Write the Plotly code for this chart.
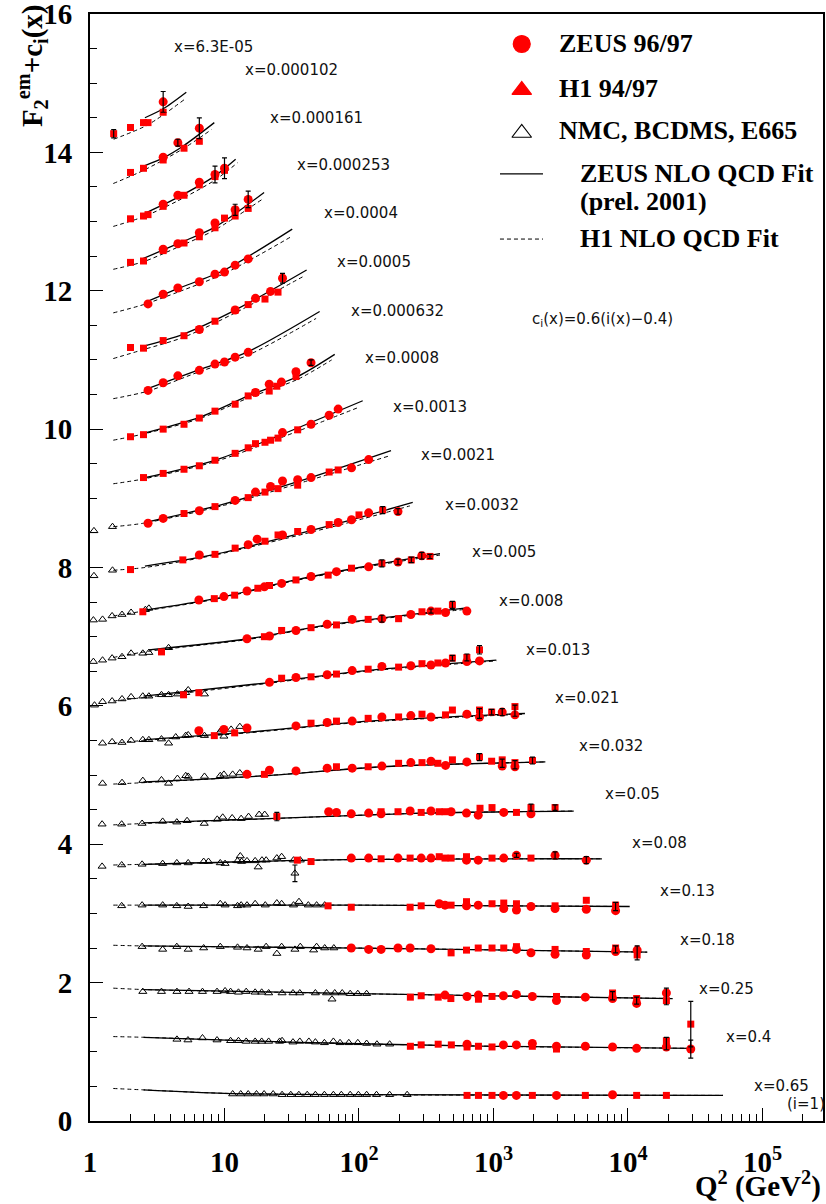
import numpy as np
import plotly.graph_objects as go

# ---------------- data ----------------
x_bins = ["6.3E-05", "0.000102", "0.000161", "0.000253", "0.0004", "0.0005",
          "0.000632", "0.0008", "0.0013", "0.0021", "0.0032", "0.005", "0.008",
          "0.013", "0.021", "0.032", "0.05", "0.08", "0.13", "0.18", "0.25",
          "0.4", "0.65"]

zeus_q2 = [
    [3.5],
    [3.5, 4.5, 6.5],
    [3.5, 4.5, 6.5, 8.5, 10],
    [3.5, 4.5, 6.5, 8.5, 12, 15],
    [2.7, 3.5, 4.5, 6.5, 8.5, 10, 12, 15],
    [6.5, 12, 17, 22, 27],
    [2.7, 3.5, 4.5, 6.5, 8.5, 10, 12, 15],
    [17, 21.5, 26.5, 34, 44],
    [27, 44, 60, 70],
    [2.7, 3.5, 6.5, 12, 17, 22, 27, 35, 44, 88, 118],
    [6.5, 15, 17.5, 27, 44, 70, 88, 118, 195],
    [6.45, 9.9, 14.7, 19.8, 26.6, 44, 68, 118, 195, 293],
    [14.7, 21.6, 34, 58, 89, 148, 243, 343, 440, 634],
    [21.6, 34, 58, 89, 148, 243, 343, 440, 634, 787],
    [6.45, 9.9, 14.7, 34, 58, 89, 148, 243, 343, 634, 787, 1161, 1444],
    [14.7, 21.6, 34, 58, 89, 148, 243, 343, 440, 634, 1161, 1444],
    [59.5, 68, 87.6, 118, 146, 240, 343, 484, 630, 770, 1192, 1900],
    [87.6, 118, 195, 290, 343, 630, 770, 1192, 1482, 2870, 4900],
    [395, 436, 630, 770, 1192, 1482, 1900, 2870, 4900, 8090],
    [87.6, 118, 146, 195, 240, 343, 1482, 1900, 2870, 4900, 8090, 11700],
    [436, 636, 773, 1185, 1480, 1945, 2940, 4820, 7680, 11600, 19300],
    [636, 1185, 1480, 1945, 2940, 4820, 7680, 11600, 19300, 29300],
    [1185, 1480, 2940, 7680],
]
zeus_f2 = [
    [14.73],
    [13.93, 14.14, 14.35],
    [13.25, 13.38, 13.57, 13.68, 13.77],
    [12.60, 12.68, 12.84, 12.98, 13.17, 13.32],
    [11.81, 11.95, 12.04, 12.13, 12.24, 12.27, 12.37, 12.46],
    [11.44, 11.72, 11.89, 11.99, 12.18],
    [10.56, 10.67, 10.77, 10.85, 10.94, 10.97, 11.04, 11.11],
    [10.53, 10.65, 10.68, 10.83, 10.96],
    [9.95, 10.07, 10.20, 10.29],
    [8.64, 8.71, 8.82, 8.97, 9.09, 9.17, 9.25, 9.27, 9.30, 9.44, 9.56],
    [8.18, 8.33, 8.41, 8.47, 8.55, 8.65, 8.69, 8.79, 8.81],
    [7.53, 7.58, 7.66, 7.72, 7.77, 7.87, 7.94, 8.01, 8.08, 8.17],
    [6.97, 7.01, 7.09, 7.18, 7.25, 7.26, 7.32, 7.37, 7.35, 7.37],
    [6.34, 6.41, 6.45, 6.51, 6.57, 6.58, 6.59, 6.62, 6.64, 6.65],
    [5.64, 5.66, 5.68, 5.71, 5.76, 5.78, 5.84, 5.86, 5.84, 5.88, 5.84, 5.91, 5.87],
    [5.01, 5.07, 5.06, 5.10, 5.10, 5.13, 5.18, 5.20, 5.14, 5.19, 5.13, 5.12],
    [4.47, 4.46, 4.44, 4.45, 4.44, 4.48, 4.48, 4.47, 4.45, 4.42, 4.46, 4.44],
    [3.80, 3.80, 3.80, 3.80, 3.80, 3.77, 3.77, 3.80, 3.84, 3.84, 3.77],
    [3.14, 3.12, 3.11, 3.12, 3.07, 3.05, 3.10, 3.07, 3.06, 3.04],
    [2.50, 2.48, 2.48, 2.50, 2.50, 2.49, 2.48, 2.43, 2.41, 2.40, 2.45, 2.47],
    [1.82, 1.80, 1.82, 1.81, 1.83, 1.80, 1.74, 1.79, 1.77, 1.70, 1.85],
    [1.11, 1.10, 1.10, 1.12, 1.08, 1.08, 1.07, 1.05, 1.07, 1.04],
    [0.37, 0.37, 0.37, 0.38],
]

h1_q2 = [
    [1.5, 2.0, 2.5, 2.7, 3.5],
    [2.0, 2.5, 3.5, 5.0, 6.5],
    [2.0, 2.5, 2.7, 3.5, 5.0, 6.5, 8.5, 10],
    [2.0, 2.5, 3.5, 5.0, 6.5, 8.5, 10, 12, 15],
    [],
    [2.0, 2.5, 3.5, 5.0, 6.5, 8.5, 12, 15, 20, 25],
    [],
    [2.0, 2.5, 3.5, 5.0, 6.5, 8.5, 12, 15, 17, 21.5, 24.5, 34],
    [2.5, 3.5, 5.0, 6.5, 8.5, 12, 15, 17, 20, 22, 25, 35],
    [5.0, 8.5, 15, 20, 25, 35, 60, 70],
    [2.0, 4.9, 8.5, 12, 20, 25, 35, 60, 100, 150],
    [2.47, 8.4, 11.9, 17.7, 21.6, 34, 59, 88, 148, 245, 337],
    [3.4, 19.8, 26.6, 44, 68, 117, 197, 294, 386, 495],
    [4.96, 6.45, 26.6, 44, 68, 117, 197, 294, 386, 495, 634, 787],
    [8.4, 11.9, 44, 68, 117, 197, 294, 440, 495, 787, 969, 1444],
    [19.8, 68, 117, 197, 294, 386, 495, 787, 969, 1161, 1444, 1950],
    [24.5, 146, 195, 290, 395, 436, 794, 975, 1482, 1900, 2870],
    [34.8, 44, 146, 240, 395, 436, 484, 630, 975, 1900],
    [58.9, 87.6, 240, 290, 484, 630, 975, 1192, 1482, 2870, 4900, 8090],
    [484, 630, 770, 975, 1192, 1482, 2870, 4900, 8090, 11700],
    [241, 290, 388, 482, 773, 975, 2940, 7680, 11600, 19300],
    [241, 290, 388, 486, 636, 773, 975, 1945, 2940, 19300, 29300],
    [636, 773, 975, 1945, 4820, 11600, 19300],
]
h1_f2 = [
    [14.27, 14.36, 14.43, 14.43, 14.58],
    [13.71, 13.77, 13.89, 14.06, 14.16],
    [13.04, 13.08, 13.10, 13.22, 13.38, 13.53, 13.65, 13.74],
    [12.41, 12.43, 12.58, 12.69, 12.78, 12.91, 13.05, 13.08, 13.19],
    [],
    [11.18, 11.17, 11.28, 11.35, 11.44, 11.56, 11.72, 11.80, 11.88, 11.98],
    [],
    [9.89, 9.92, 10.00, 10.07, 10.16, 10.26, 10.36, 10.48, 10.53, 10.55, 10.62, 10.76],
    [9.30, 9.36, 9.42, 9.47, 9.55, 9.65, 9.73, 9.79, 9.81, 9.84, 9.87, 9.99],
    [8.78, 8.88, 9.01, 9.09, 9.14, 9.19, 9.38, 9.41],
    [7.97, 8.11, 8.19, 8.28, 8.38, 8.47, 8.52, 8.62, 8.76, 8.83],
    [7.36, 7.55, 7.60, 7.70, 7.74, 7.82, 7.89, 7.99, 8.06, 8.11, 8.16],
    [6.78, 7.00, 7.09, 7.13, 7.17, 7.25, 7.26, 7.36, 7.37, 7.46],
    [6.16, 6.19, 6.40, 6.42, 6.46, 6.53, 6.56, 6.61, 6.62, 6.69, 6.70, 6.81],
    [5.57, 5.61, 5.75, 5.78, 5.82, 5.84, 5.88, 5.87, 5.94, 5.94, 5.91, 5.99],
    [5.01, 5.12, 5.12, 5.17, 5.18, 5.17, 5.22, 5.26, 5.20, 5.22, 5.18, 5.21],
    [4.40, 4.47, 4.47, 4.46, 4.47, 4.47, 4.52, 4.53, 4.46, 4.53, 4.53],
    [3.77, 3.75, 3.79, 3.80, 3.82, 3.80, 3.80, 3.82, 3.80, 3.80],
    [3.11, 3.09, 3.09, 3.11, 3.12, 3.17, 3.14, 3.15, 3.14, 3.11, 3.19, 3.12],
    [2.43, 2.47, 2.50, 2.50, 2.50, 2.52, 2.48, 2.45, 2.50, 2.40],
    [1.79, 1.81, 1.79, 1.77, 1.76, 1.80, 1.80, 1.85, 1.77, 1.74],
    [1.08, 1.10, 1.11, 1.10, 1.07, 1.08, 1.07, 1.08, 1.04, 1.16, 1.40],
    [0.37, 0.37, 0.37, 0.37, 0.37, 0.37, 0.37],
]

fixed_q2 = [
    [], [], [], [], [], [], [], [], [],
    [1.07, 1.47],
    [1.07, 1.47],
    [1.06, 1.24, 1.46, 1.73, 2.02, 2.58, 2.74],
    [1.06, 1.24, 1.46, 1.73, 2.02, 2.47, 2.74, 3.84],
    [1.08, 1.24, 1.46, 1.73, 2.02, 2.47, 2.74, 3.4, 3.84, 4.47, 5.15, 5.37, 7.1],
    [1.24, 1.46, 1.73, 2.02, 2.47, 2.74, 3.4, 3.84, 4.34, 5.15, 5.37, 7.1, 9.3, 9.6, 9.9, 11.2, 13.0],
    [1.24, 1.73, 2.47, 3.4, 3.84, 4.47, 5.15, 5.37, 7.1, 9.3, 9.9, 11.5, 13.0],
    [1.23, 1.72, 2.44, 3.47, 4.42, 5.27, 7.07, 8.83, 9.7, 11.4, 13.3, 15.1, 18.1, 19.9],
    [1.23, 1.72, 2.44, 3.47, 4.42, 5.37, 7.0, 7.6, 9.3, 10.1, 12.5, 13.1, 13.4, 14.7, 16.9,
     17.8, 19.0, 20.4, 24.5, 26.6, 32.6, 33.4, 36.6],
    [1.72, 2.44, 3.47, 4.42, 5.37, 7.0, 9.3, 10.1, 12.5, 13.3, 14.7, 16.9, 20.1, 24.5, 26.6,
     32.6, 35.8, 42, 48.4, 55.6],
    [2.44, 3.47, 4.42, 5.37, 7.0, 9.3, 12.5, 14.7, 17.8, 20.4, 24.5, 26.6, 33.4, 36.6, 46,
     48.4, 55.6, 65],
    [2.47, 3.4, 4.43, 5.45, 6.86, 8.8, 10.1, 11.1, 12.7, 14.5, 16.9, 18.9, 21.3, 26.8, 32.3,
     36.3, 47.4, 57.4, 63, 66, 75, 86, 98, 114],
    [4.43, 5.35, 6.86, 8.8, 11.1, 12.7, 14.5, 16.9, 18.9, 21.3, 25.7, 26.8, 32.3, 36.3, 42.4,
     47.4, 55.3, 64.5, 72.3, 84, 98, 114, 136, 169],
    [11.5, 13.2, 15.0, 17.3, 19.7, 23.0, 26.8, 31.1, 35.7, 41.2, 47.4, 55.3, 64.5, 73.9, 86.0,
     99, 114, 135, 169, 228],
]
fixed_f2 = [
    [], [], [], [], [], [], [], [], [],
    [8.53, 8.59],
    [7.88, 7.96],
    [7.24, 7.25, 7.30, 7.32, 7.35, 7.39, 7.41],
    [6.64, 6.66, 6.69, 6.71, 6.76, 6.76, 6.77, 6.84],
    [6.01, 6.06, 6.07, 6.10, 6.13, 6.14, 6.14, 6.16, 6.16, 6.17, 6.19, 6.23, 6.17],
    [5.46, 5.48, 5.47, 5.50, 5.51, 5.51, 5.52, 5.46, 5.55, 5.57, 5.58, 5.57, 5.63, 5.66, 5.56, 5.66, 5.70],
    [4.88, 4.89, 4.92, 4.93, 4.88, 4.95, 4.99, 4.98, 4.98, 4.99, 5.01, 5.01, 5.03],
    [4.29, 4.29, 4.30, 4.33, 4.32, 4.34, 4.30, 4.36, 4.39, 4.38, 4.37, 4.40, 4.43, 4.43],
    [3.68, 3.70, 3.71, 3.72, 3.73, 3.73, 3.75, 3.75, 3.73, 3.72, 3.76, 3.83, 3.75, 3.76, 3.76,
     3.67, 3.77, 3.77, 3.80, 3.82, 3.77, 3.58, 3.77],
    [3.11, 3.12, 3.12, 3.11, 3.10, 3.11, 3.14, 3.12, 3.11, 3.12, 3.12, 3.14, 3.12, 3.15, 3.14,
     3.12, 3.17, 3.12, 3.12, 3.12],
    [2.52, 2.48, 2.52, 2.48, 2.50, 2.52, 2.51, 2.50, 2.48, 2.52, 2.42, 2.52, 2.48, 2.52, 2.47,
     2.52, 2.50, 2.50],
    [1.87, 1.87, 1.87, 1.87, 1.87, 1.87, 1.88, 1.87, 1.86, 1.87, 1.86, 1.86, 1.85, 1.85, 1.85,
     1.85, 1.85, 1.85, 1.76, 1.85, 1.85, 1.84, 1.84, 1.84],
    [1.18, 1.17, 1.20, 1.17, 1.16, 1.16, 1.15, 1.15, 1.15, 1.15, 1.15, 1.16, 1.14, 1.15, 1.15,
     1.14, 1.13, 1.15, 1.13, 1.13, 1.13, 1.12, 1.11, 1.11],
    [0.39, 0.39, 0.39, 0.39, 0.39, 0.39, 0.38, 0.38, 0.38, 0.38, 0.38, 0.38, 0.38, 0.38, 0.38,
     0.38, 0.38, 0.38, 0.38, 0.38],
]

zeus_fit_q2 = [
    [2.56, 3.5, 5.2],
    [2.56, 3.5, 5.0, 8.4],
    [2.56, 4.5, 8.5, 12.1],
    [2.45, 4.5, 8.5, 19.7],
    [2.56, 4.5, 10, 31.9],
    [2.4, 4.9, 12, 40.8],
    [2.56, 6.5, 15, 51],
    [2.4, 6.5, 15, 35, 66],
    [2.45, 8.5, 25, 106.6],
    [2.56, 10, 35, 173],
    [2.56, 8.5, 30, 88, 251],
    [2.5, 8.5, 30, 100, 400],
    [2.74, 15, 50, 200, 653],
    [2.5, 20, 100, 1050],
    [2.5, 15, 100, 1714],
    [2.5, 20, 150, 2430],
    [2.5, 30, 300, 3950],
    [2.5, 100, 6400],
    [2.5, 100, 10300],
    [2.5, 100, 13900],
    [2.5, 100, 21500],
    [2.5, 30, 1000, 30200],
    [2.5, 10, 100, 50900],
]
zeus_fit_f2 = [
    [14.50, 14.63, 14.87],
    [13.81, 13.92, 14.10, 14.43],
    [13.12, 13.35, 13.66, 13.90],
    [12.46, 12.68, 12.92, 13.42],
    [11.83, 12.03, 12.30, 12.89],
    [11.19, 11.37, 11.72, 12.30],
    [10.57, 10.86, 11.12, 11.70],
    [9.93, 10.17, 10.48, 10.76, 11.08],
    [9.29, 9.55, 9.90, 10.41],
    [8.65, 8.92, 9.24, 9.69],
    [8.02, 8.19, 8.45, 8.69, 8.94],
    [7.38, 7.55, 7.80, 8.00, 8.20],
    [6.81, 6.97, 7.15, 7.30, 7.42],
    [6.14, 6.33, 6.50, 6.66],
    [5.51, 5.62, 5.77, 5.89],
    [4.90, 4.99, 5.12, 5.19],
    [4.31, 4.38, 4.45, 4.48],
    [3.71, 3.78, 3.79],
    [3.12, 3.12, 3.10],
    [2.53, 2.50, 2.44],
    [1.90, 1.84, 1.77],
    [1.21, 1.14, 1.08, 1.05],
    [0.45, 0.40, 0.38, 0.37],
]

h1_fit_q2 = [
    [1.5, 2.7, 5.0],
    [1.49, 2.5, 4.9, 8.0],
    [1.49, 2.5, 4.5, 8.5, 12.5],
    [1.49, 2.5, 4.5, 8.5, 19.7],
    [1.49, 2.5, 4.5, 10, 31.9],
    [1.49, 2.5, 5, 12, 38],
    [1.49, 2.7, 6.5, 15, 48],
    [1.49, 2.5, 6.5, 15, 35, 62.6],
    [1.49, 2.5, 8.5, 25, 101],
    [1.49, 2.5, 10, 35, 166],
    [1.49, 2.56, 8.5, 30, 88, 239],
    [1.49, 2.5, 8.5, 30, 100, 400],
    [1.49, 2.74, 15, 50, 200, 653],
    [1.49, 2.5, 20, 100, 1050],
    [1.49, 2.5, 15, 100, 1714],
    [1.49, 2.5, 20, 150, 2430],
    [1.49, 2.5, 30, 300, 3950],
    [1.49, 2.5, 100, 6400],
    [1.49, 2.5, 100, 10300],
    [1.49, 2.5, 100, 13900],
    [1.49, 2.5, 100, 21500],
    [1.49, 2.5, 30, 1000, 30200],
    [1.49, 2.5, 10, 100, 50900],
]
h1_fit_f2 = [
    [14.19, 14.40, 14.76],
    [13.55, 13.74, 14.05, 14.33],
    [12.93, 13.07, 13.30, 13.60, 13.85],
    [12.31, 12.42, 12.63, 12.88, 13.34],
    [11.68, 11.80, 11.98, 12.25, 12.79],
    [11.02, 11.15, 11.33, 11.68, 12.20],
    [10.44, 10.55, 10.83, 11.07, 11.60],
    [9.84, 9.93, 10.15, 10.45, 10.72, 11.00],
    [9.21, 9.28, 9.53, 9.86, 10.32],
    [8.59, 8.64, 8.90, 9.21, 9.61],
    [7.96, 8.00, 8.18, 8.43, 8.66, 8.89],
    [7.30, 7.37, 7.54, 7.79, 7.99, 8.18],
    [6.70, 6.79, 6.96, 7.14, 7.29, 7.40],
    [6.07, 6.12, 6.32, 6.49, 6.65],
    [5.46, 5.50, 5.61, 5.76, 5.88],
    [4.87, 4.89, 4.99, 5.12, 5.19],
    [4.28, 4.30, 4.38, 4.45, 4.48],
    [3.70, 3.71, 3.78, 3.79],
    [3.12, 3.12, 3.12, 3.10],
    [2.54, 2.53, 2.50, 2.44],
    [1.92, 1.90, 1.84, 1.77],
    [1.22, 1.21, 1.14, 1.08, 1.05],
    [0.47, 0.45, 0.40, 0.38, 0.37],
]

# visible error bars (Q2, F2+c, half-size)
err_q2 = [3.5, 1.5, 6.5, 4.5, 8.5, 10, 12, 15, 27, 44, 150, 195,
          148, 195, 245, 293, 337, 148, 343, 495, 495, 634, 787,
          787, 969, 1161, 1444, 787, 1161, 1444, 1950,
          24.5, 1900, 2870, 33.4, 1482, 2870, 4900, 8090, 8090, 11700,
          7680, 11600, 19300, 19300, 29300, 29300]
err_f2 = [14.73, 14.27, 14.35, 14.14, 13.68, 13.77, 13.17, 13.32, 12.18, 10.96, 8.83, 8.81,
          8.06, 8.08, 8.11, 8.17, 8.16, 7.26, 7.37, 7.46, 6.69, 6.70, 6.81,
          5.89, 5.91, 5.91, 5.93, 5.26, 5.17, 5.15, 5.21,
          4.40, 4.53, 4.53, 3.58, 3.84, 3.84, 3.77, 3.10, 2.48, 2.43,
          1.81, 1.74, 1.80, 1.12, 1.40, 1.04]
err_size = [0.15, 0.06, 0.15, 0.05, 0.12, 0.15, 0.08, 0.12, 0.07, 0.04, 0.05, 0.04,
            0.05, 0.04, 0.04, 0.05, 0.03, 0.05, 0.03, 0.05, 0.04, 0.05, 0.06,
            0.07, 0.04, 0.05, 0.08, 0.05, 0.06, 0.06, 0.05,
            0.06, 0.05, 0.04, 0.12, 0.03, 0.05, 0.05, 0.06, 0.05, 0.10,
            0.06, 0.05, 0.12, 0.09, 0.33, 0.13]

# label anchor positions (left edge / vertical centre) for the x-bin texts
label_q2 = [4.07, 13.7, 21.1, 33.4, 53.1, 66.3, 84.3, 107, 173, 279, 421, 669, 1061,
            1686, 2770, 4175, 6515, 10350, 16700, 23550, 32600, 51700, 83600]
label_f2 = [15.52, 15.19, 14.49, 13.82, 13.12, 12.41, 11.71, 11.03, 10.32, 9.62, 8.91,
            8.22, 7.51, 6.81, 6.11, 5.42, 4.73, 4.02, 3.32, 2.62, 1.91, 1.21, 0.50]

decades = [1, 10, 100, 1000, 10000, 100000]
decade_text = ["1", "10", "10<sup>2</sup>", "10<sup>3</sup>", "10<sup>4</sup>", "10<sup>5</sup>"]
y_ticks = [0, 2, 4, 6, 8, 10, 12, 14, 16]

# ---------------- figure ----------------
fig = go.Figure()
RED = "#ff0000"

for q, f in zip(h1_fit_q2, h1_fit_f2):
    fig.add_trace(go.Scatter(x=q, y=f, mode="lines", hoverinfo="skip",
                             line=dict(color="black", width=1, dash="4px,3px",
                                       shape="spline", smoothing=0.8)))
for q, f in zip(zeus_fit_q2, zeus_fit_f2):
    fig.add_trace(go.Scatter(x=q, y=f, mode="lines", hoverinfo="skip",
                             line=dict(color="black", width=1.3,
                                       shape="spline", smoothing=0.8)))

flat = lambda lst: [v for sub in lst for v in sub]

fig.add_trace(go.Scatter(x=flat(fixed_q2), y=flat(fixed_f2), mode="markers",
                         marker=dict(symbol="triangle-up-open", size=7, color="black",
                                     line=dict(width=1, color="black"))))
fig.add_trace(go.Scatter(x=flat(h1_q2), y=flat(h1_f2), mode="markers",
                         marker=dict(symbol="square", size=7, color=RED)))
fig.add_trace(go.Scatter(x=flat(zeus_q2), y=flat(zeus_f2), mode="markers",
                         marker=dict(symbol="circle", size=9, color=RED)))
fig.add_trace(go.Scatter(x=err_q2, y=err_f2, mode="markers",
                         marker=dict(size=1, color="rgba(0,0,0,0)"),
                         error_y=dict(type="data", array=err_size, visible=True,
                                      color="black", thickness=1.2, width=2.5)))

# legend (drawn in an overlaid unit-square axis)
leg_sym = ["circle", "triangle-up", "triangle-up-open"]
leg_col = [RED, RED, "black"]
leg_y = [0.9729, 0.9313, 0.8925]
for s, c, yy in zip(leg_sym, leg_col, leg_y):
    fig.add_trace(go.Scatter(x=[0.589], y=[yy], mode="markers", xaxis="x2", yaxis="y2",
                             marker=dict(symbol=s, size=17, color=c,
                                         line=dict(width=1.2, color=c))))
fig.add_trace(go.Scatter(x=[0.5593, 0.618], y=[0.8555, 0.8555], mode="lines",
                         xaxis="x2", yaxis="y2", line=dict(color="black", width=1.3)))
fig.add_trace(go.Scatter(x=[0.5593, 0.618], y=[0.7967, 0.7967], mode="lines",
                         xaxis="x2", yaxis="y2",
                         line=dict(color="black", width=1, dash="4px,3px")))

legend_font = dict(family="Liberation Serif", size=26, color="black", weight="bold")
leg_texts = [("ZEUS 96/97", 0.6367, 0.9729), ("H1 94/97", 0.6367, 0.9329),
             ("NMC, BCDMS, E665", 0.6367, 0.8952), ("ZEUS NLO QCD Fit", 0.6662, 0.8556),
             ("(prel. 2001)", 0.6662, 0.8310), ("H1 NLO QCD Fit", 0.6662, 0.7974)]
annotations = []
for t, xx, yy in leg_texts:
    annotations.append(dict(text=t, x=xx, y=yy, xref="paper", yref="paper",
                            xanchor="left", yanchor="middle", showarrow=False,
                            font=legend_font))

label_font = dict(family="DejaVu Sans", size=15, color="#111")
for xb, q, f in zip(x_bins, label_q2, label_f2):
    annotations.append(dict(text="x=" + xb, x=np.log10(q), y=f, xref="x", yref="y",
                            xanchor="left", yanchor="middle", showarrow=False,
                            font=label_font))
annotations.append(dict(text="(i=1)", x=np.log10(147000), y=0.24, xref="x", yref="y",
                        xanchor="left", yanchor="middle", showarrow=False, font=label_font))
annotations.append(dict(text="c<sub>i</sub>(x)=0.6(i(x)\u22120.4)", x=np.log10(1866), y=11.58,
                        xref="x", yref="y", xanchor="left", yanchor="middle",
                        showarrow=False, font=label_font))

title_font = dict(family="Liberation Serif", size=29, color="black", weight="bold")
annotations.append(dict(text="F<sub>2</sub><sup>em</sup>+c<sub>i</sub>(x)",
                        x=-0.079, y=0.953, xref="paper", yref="paper", textangle=-90,
                        xanchor="center", yanchor="middle", showarrow=False, font=title_font))
annotations.append(dict(text="Q<sup>2</sup> (GeV<sup>2</sup>)", x=1.0, y=-0.057,
                        xref="paper", yref="paper", xanchor="right", yanchor="middle",
                        showarrow=False, font=title_font))

minor_x = [m * d for d in decades for m in range(2, 10)]
tick_font = dict(family="Liberation Serif", size=29, color="black", weight="bold")

fig.update_layout(
    width=826, height=1204,
    margin=dict(l=90, r=3, t=14, b=83, autoexpand=False),
    plot_bgcolor="white", paper_bgcolor="white",
    showlegend=False,
    annotations=annotations,
    xaxis=dict(type="log", range=[0, 5.45], showline=True, linecolor="black", linewidth=2,
               mirror=True, ticks="inside", ticklen=13, tickwidth=1, tickcolor="black",
               tickmode="array", tickvals=decades, ticktext=decade_text,
               tickfont=tick_font, ticklabelstandoff=14, ticklabeloverflow="allow",
               automargin=False, showgrid=False, zeroline=False,
               minor=dict(tickmode="array", tickvals=minor_x, ticks="inside", ticklen=7,
                          tickcolor="black", tickwidth=1, showgrid=False)),
    yaxis=dict(range=[0, 16], showline=True, linecolor="black", linewidth=2, mirror=True,
               ticks="inside", ticklen=13, tickwidth=1, tickcolor="black",
               tickmode="array", tickvals=y_ticks, ticktext=[str(v) for v in y_ticks],
               tickfont=tick_font, ticklabelstandoff=10, ticklabeloverflow="allow",
               automargin=False, showgrid=False, zeroline=False,
               minor=dict(dtick=0.5, ticks="inside", ticklen=7, tickcolor="black",
                          tickwidth=1, showgrid=False)),
    xaxis2=dict(overlaying="x", range=[0, 1], visible=False, fixedrange=True),
    yaxis2=dict(overlaying="y", range=[0, 1], visible=False, fixedrange=True),
)

fig.write_html("out.html")
